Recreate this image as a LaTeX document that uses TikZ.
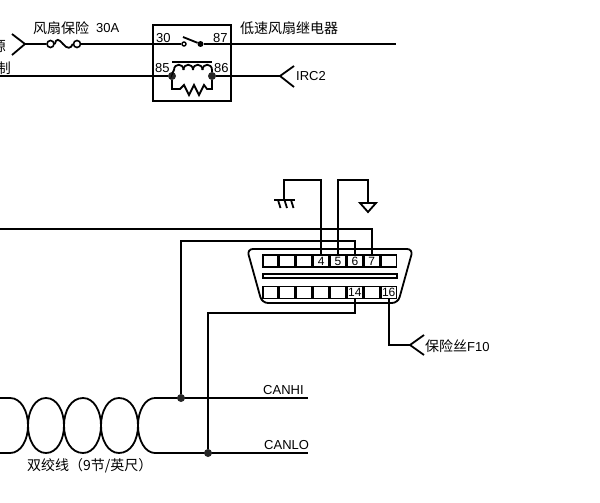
\documentclass[tikz,border=0pt]{standalone}
\usepackage{fontspec}
\setmainfont{Liberation Sans}
\newfontfamily\cjkfam{Noto Sans CJK SC}
\newcommand{\cjk}{\cjkfam\fontsize{14}{14}\selectfont}
\tikzset{
    wire/.style={line width=1.8pt},
    txt/.style={inner sep=0pt,font=\fontsize{13}{13}\selectfont},
    pinbox/.style={draw,line width=1.6pt,minimum width=15.4pt,minimum height=12pt,inner sep=0pt,
        font=\fontsize{12}{12}\selectfont},
    junction/.style={circle,fill=black!85,inner sep=0pt,minimum size=8pt},
    contact/.style={circle,draw,line width=1.4pt,fill=white,inner sep=0pt,minimum size=4pt},
    fusepad/.style={circle,draw,line width=1.6pt,fill=white,inner sep=0pt,minimum size=7pt},
}
\begin{document}
\begin{tikzpicture}[x=1pt,y=-1pt]
    \useasboundingbox (0,0) rectangle (600,503);

    % реле
    \node[draw,line width=1.8pt,minimum width=78pt,minimum height=76pt,inner sep=0pt] (relay) at (192,63) {};
    \node[contact] (swA) at (184,44) {};
    \node[circle,fill,inner sep=0pt,minimum size=6pt] (swB) at (200.5,44) {};
    \coordinate (blade) at (183,37);
    \draw[wire] (blade) -- (swB);
    \node[junction] (coilL) at (172,76) {};
    \node[junction] (coilR) at (212,76) {};
    \coordinate (barL) at (172,62);
    \coordinate (barR) at (212,62);
    \draw[wire] (barL) -- (barR);

    % катушка
    \draw[wire] (coilL) -- (173,72) -- (174,70);
    \foreach \hx in {174,183.5,193,202.5}
        \draw[wire] (\hx,70) .. controls (\hx,63) and ({\hx+9.5},63) .. ({\hx+9.5},70);
    \draw[wire] (212,70) -- (coilR);

    % резистор
    \draw[wire] (coilL) -- (172,89) -- (180,89) -- (184,85) -- (189,95) -- (194,85) -- (199,95)
        -- (204,85) -- (207,89) -- (212,89) -- (coilR);

    % верхняя цепь
    \coordinate (srcTip) at (25,44);
    \coordinate (srcA) at (12,34);
    \coordinate (srcB) at (12,55);
    \draw[wire] (srcA) -- (srcTip) -- (srcB);
    \node[fusepad] (fuseL) at (50.5,44) {};
    \node[fusepad] (fuseR) at (77,44) {};
    \draw[wire] (srcTip) -- (fuseL);
    \draw[wire] (fuseL.east) .. controls (56,38) and (59,39) .. (63,44) .. controls (67,49) and (71,49) .. (fuseR.west);
    \draw[wire] (fuseR) -- (swA);
    \coordinate (outEnd) at (396,44);
    \draw[wire] (swB) -- (outEnd);

    % нижняя цепь реле
    \coordinate (ctlEnd) at (0,76);
    \draw[wire] (ctlEnd) -- (coilL);
    \coordinate (ircTip) at (280,76);
    \coordinate (ircA) at (294,66);
    \coordinate (ircB) at (294,87);
    \draw[wire] (coilR) -- (ircTip);
    \draw[wire] (ircA) -- (ircTip) -- (ircB);

    % разъём
    \draw[line width=1.8pt,rounded corners=6pt] (247,249) -- (413,249) -- (398,303) -- (262,303) -- cycle;
    \foreach \n/\t [count=\i from 0] in {a/,b/,c/,4/4,5/5,6/6,7/7,d/}
        \node[pinbox] (pin\n) at ({270.4+16.9*\i},261) {\t};
    \node[draw,line width=1.6pt,minimum width=134pt,minimum height=4.5pt,inner sep=0pt] (slot) at (330,276) {};
    \foreach \n/\t [count=\i from 0] in {e/,f/,g/,h/,k/,14/14,m/,16/16}
        \node[pinbox] (pin\n) at ({270.4+16.9*\i},292.5) {\t};

    % масса
    \coordinate (gndA) at (274,200);
    \coordinate (gndB) at (295,200);
    \coordinate (gndC) at (284,200);
    \draw[wire] (gndA) -- (gndB);
    \foreach \gx in {278,284.5,291}
        \draw[wire] (\gx,200) -- ({\gx+2.5},208);
    \draw[wire] (pin4.north) -- (pin4.north |- 0,180) -- (gndC |- 0,180) -- (gndC);
    \coordinate (sigTop) at (368,203);
    \draw[wire] (pin5.north) -- (pin5.north |- 0,180) -- (sigTop |- 0,180) -- (sigTop);
    \draw[wire] (360,203) -- (376,203) -- (368,212) -- cycle;

    % витая пара
    \foreach \s/\c/\e in {10/28/46,46/64/83,83/101/119,119/138/155} {
        \draw[wire] (\s,398) .. controls ({\c-7},398) and (\c,411) .. (\c,425.5)
            .. controls (\c,440) and ({\c+7},453) .. (\e,453);
        \draw[wire] (\s,453) .. controls ({\c-7},453) and (\c,440) .. (\c,425.5)
            .. controls (\c,411) and ({\c+7},398) .. (\e,398);
    }
    \coordinate (hiL) at (0,398);
    \coordinate (loL) at (0,453);
    \coordinate (hiT) at (10,398);
    \coordinate (loT) at (10,453);
    \coordinate (hiS) at (155,398);
    \coordinate (loS) at (155,453);
    \coordinate (hiEnd) at (308,398);
    \coordinate (loEnd) at (308,453);
    \draw[wire] (hiL) -- (hiT);
    \draw[wire] (loL) -- (loT);
    \draw[wire] (hiS) -- (hiEnd);
    \draw[wire] (loS) -- (loEnd);
    \node[junction] (jHi) at (181,398) {};
    \node[junction] (jLo) at (208,453) {};

    % провода к разъёму
    \coordinate (busTop) at (0,229);
    \draw[wire] (busTop) -- (busTop -| pin7.north) -- (pin7.north);
    \draw[wire] (jHi) -- (jHi |- 0,241) -- (pin6.north |- 0,241) -- (pin6.north);
    \draw[wire] (jLo) -- (jLo |- 0,313) -- (pin14.south |- 0,313) -- (pin14.south);
    \coordinate (fuseTip) at (410,345);
    \coordinate (fuseA) at (424,335);
    \coordinate (fuseB) at (424,355);
    \draw[wire] (pin16.south) -- (pin16.south |- fuseTip) -- (fuseTip);
    \draw[wire] (fuseA) -- (fuseTip) -- (fuseB);

    % подписи
    \node[txt,anchor=east] (lblSrc) at (6,46) {\cjk 源};
    \node[txt,anchor=east] (lblCtl) at (11,68) {\cjk 制};
    \node[txt,anchor=west] (lblFuse) at (33,28) {\cjk 风扇保险};
    \node[txt,anchor=west] (lblAmp) at (96,28) {30A};
    \node[txt,anchor=west] (lblRelay) at (240,28) {\cjk 低速风扇继电器};
    \node[txt,anchor=west] (lbl30) at (156,38) {30};
    \node[txt,anchor=west] (lbl87) at (213,38) {87};
    \node[txt,anchor=west] (lbl85) at (155,68) {85};
    \node[txt,anchor=west] (lbl86) at (214,68) {86};
    \node[txt,anchor=west] (lblIrc) at (296,76) {IRC2};
    \node[txt,anchor=west] (lblF10) at (425,346) {{\cjk 保险丝}F10};
    \node[txt,anchor=west] (lblHi) at (263,390) {CANHI};
    \node[txt,anchor=west] (lblLo) at (264,445) {CANLO};
    \node[txt,anchor=west] (lblPair) at (27,466) {\cjk 双绞线（9节/英尺）};
\end{tikzpicture}
\end{document}
